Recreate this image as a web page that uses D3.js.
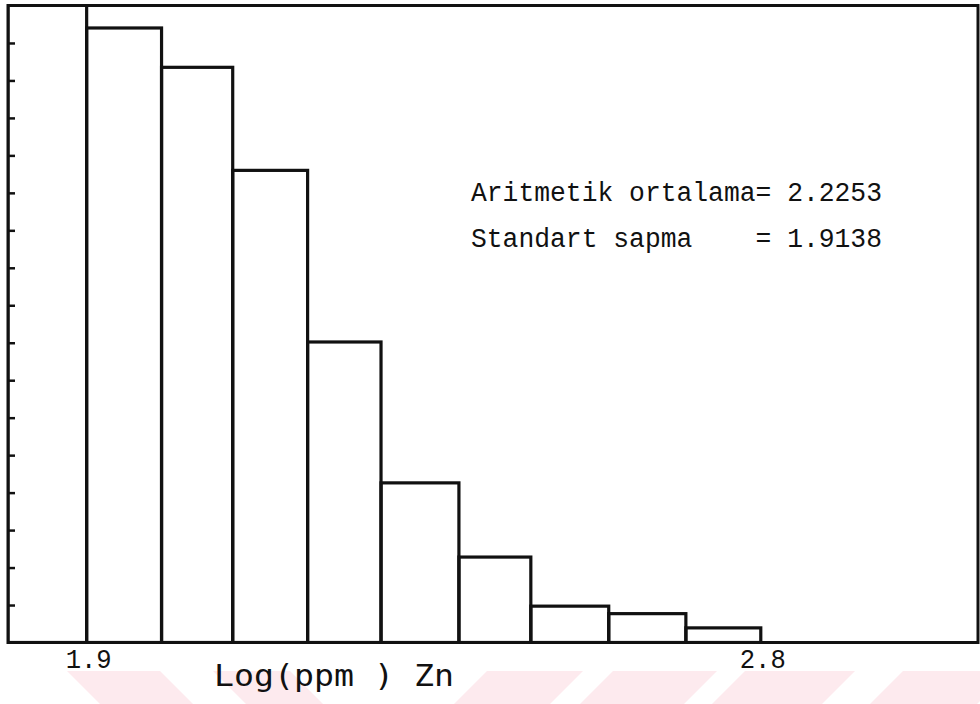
<!DOCTYPE html>
<html lang="en">
<head>
<meta charset="UTF-8">
<title>Log(ppm) Zn histogram</title>
<script src="https://d3js.org/d3.v7.min.js"></script>
<style>
    body { margin: 0; background: #fff; }
    svg { display: block; }
    .mono { font-family: "Liberation Mono", "DejaVu Sans Mono", monospace; fill: #111; }
    .label { font-family: "DejaVu Sans Mono", monospace; fill: #111; }
</style>
</head>
<body>
<div id="chart"></div>
<script>
    // bin edges (log ppm Zn) and bar heights
    const binEdges = [1.795, 1.90, 2.00, 2.095, 2.195, 2.293, 2.397, 2.493, 2.597, 2.70, 2.80];
    const counts = [18, 16.4, 15.35, 12.6, 8.02, 4.26, 2.28, 0.97, 0.77, 0.39];
    const yTicks = d3.range(1, 17);
    const xTickLabels = [1.9, 2.8];
    const statLines = ["Aritmetik ortalama= 2.2253", "Standart sapma    = 1.9138"];

    // faint watermark stripes at the bottom of the scanned page
    const wmBack = [[67, 160], [213, 290]];
    const wmFwd = [[487, 583], [613, 717], [745, 855], [903, 1010]];

    const width = 980, height = 704;
    const margin = { left: 8, right: 978, top: 5.5, bottom: 642.5 };

    const x = d3.scaleLinear().domain([1.795, 3.09]).range([margin.left, margin.right]);
    const y = d3.scaleLinear().domain([0, 17]).range([margin.bottom, margin.top]);

    const svg = d3.select("#chart").append("svg")
        .attr("width", width)
        .attr("height", height);

    // watermark
    const wm = svg.append("g").attr("fill", "#fdeaee");
    const t0 = 671, t1 = 704, sl = t1 - t0;
    wm.selectAll("path.b").data(wmBack).join("path")
        .attr("class", "b")
        .attr("d", d => `M${d[0]},${t0}L${d[1]},${t0}L${d[1] + sl},${t1}L${d[0] + sl},${t1}Z`);
    wm.selectAll("path.f").data(wmFwd).join("path")
        .attr("class", "f")
        .attr("d", d => `M${d[0]},${t0}L${d[1]},${t0}L${d[1] - sl},${t1}L${d[0] - sl},${t1}Z`);

    svg.append("defs").append("clipPath").attr("id", "plot")
        .append("rect")
        .attr("x", margin.left).attr("y", margin.top)
        .attr("width", margin.right - margin.left).attr("height", margin.bottom - margin.top);

    const bins = counts.map((c, i) => ({ x0: binEdges[i], x1: binEdges[i + 1], v: c }));

    svg.append("g")
        .attr("clip-path", "url(#plot)")
        .selectAll("rect")
        .data(bins)
        .join("rect")
        .attr("x", d => x(d.x0))
        .attr("y", d => y(d.v))
        .attr("width", d => x(d.x1) - x(d.x0))
        .attr("height", d => y(0) - y(d.v))
        .attr("fill", "none")
        .attr("stroke", "#111")
        .attr("stroke-width", 3.2);

    // frame
    svg.append("rect")
        .attr("x", margin.left).attr("y", margin.top)
        .attr("width", margin.right - margin.left).attr("height", margin.bottom - margin.top)
        .attr("fill", "none")
        .attr("stroke", "#111")
        .attr("stroke-width", 3);

    // inward ticks on the left axis
    const yAxis = svg.append("g")
        .attr("transform", `translate(${margin.left},0)`)
        .call(d3.axisRight(y).tickValues(yTicks).tickSize(7).tickFormat(""));
    yAxis.select(".domain").remove();
    yAxis.selectAll(".tick line").attr("stroke", "#111").attr("stroke-width", 2.5);

    // x tick labels
    svg.append("g")
        .selectAll("text")
        .data(xTickLabels)
        .join("text")
        .attr("class", "mono")
        .attr("x", d => x(d) + 2)
        .attr("y", 668)
        .attr("text-anchor", "middle")
        .attr("font-size", 27)
        .attr("textLength", 46)
        .attr("lengthAdjust", "spacingAndGlyphs")
        .text(d => d.toFixed(1));

    svg.append("text")
        .attr("class", "label")
        .attr("x", 214)
        .attr("y", 686)
        .attr("font-size", 31)
        .attr("textLength", 240)
        .attr("lengthAdjust", "spacingAndGlyphs")
        .text("Log(ppm ) Zn");

    svg.append("g")
        .selectAll("text")
        .data(statLines)
        .join("text")
        .attr("class", "mono")
        .attr("x", 471)
        .attr("y", (d, i) => 201 + i * 46)
        .attr("font-size", 27)
        .attr("textLength", 411)
        .attr("lengthAdjust", "spacingAndGlyphs")
        .style("white-space", "pre")
        .text(d => d);
</script>
</body>
</html>
